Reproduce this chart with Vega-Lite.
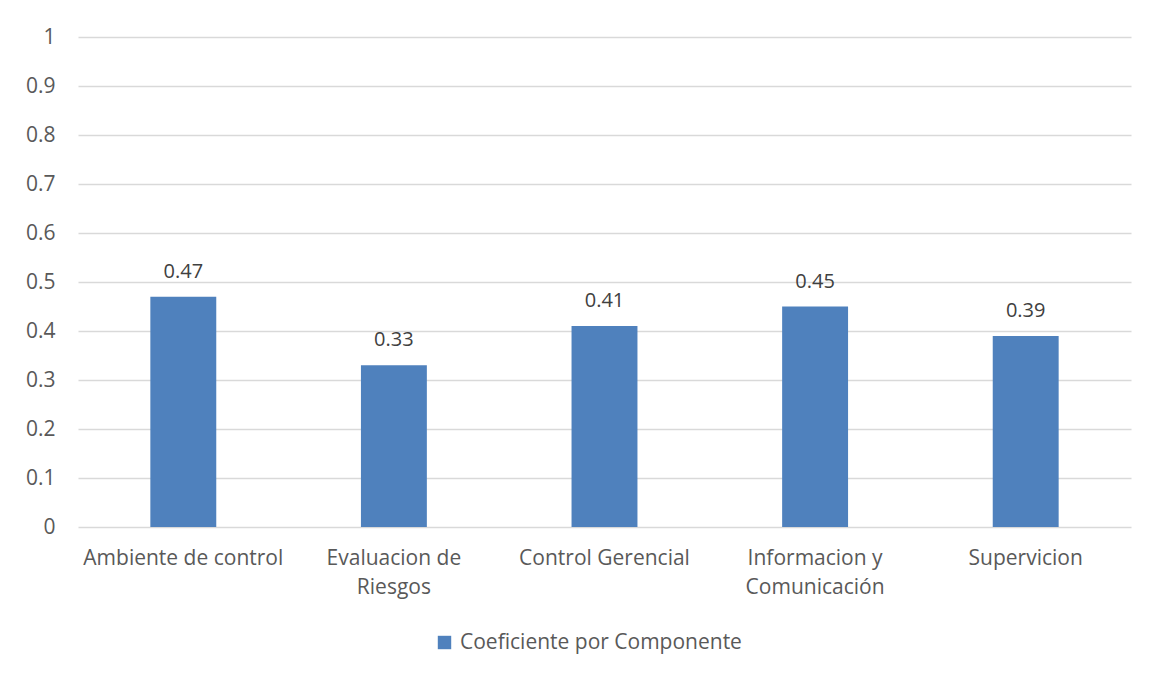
{
  "$schema": "https://vega.github.io/schema/vega-lite/v6.json",
  "autosize": {"type": "none"},
  "padding": {"left": 78, "top": 37, "right": 24, "bottom": 148},
  "width": 1053,
  "height": 490,
  "background": "#ffffff",
  "config": {
    "view": {"stroke": null},
    "font": "Open Sans",
    "axis": {"labelFont": "Open Sans", "labelColor": "#595959", "domain": false, "ticks": false, "title": null, "labelLimit": 0}
  },
  "data": {
    "values": [
      {"Componente": "Ambiente de control", "Coeficiente": 0.47},
      {"Componente": "Evaluacion de Riesgos", "Coeficiente": 0.33},
      {"Componente": "Control Gerencial", "Coeficiente": 0.41},
      {"Componente": "Informacion y Comunicación", "Coeficiente": 0.45},
      {"Componente": "Supervicion", "Coeficiente": 0.39}
    ]
  },
  "encoding": {
    "x": {
      "field": "Componente",
      "type": "nominal",
      "sort": null,
      "scale": {"paddingInner": 0.687, "paddingOuter": 0.3435},
      "axis": {
        "labelAngle": 0,
        "labelFontSize": 21,
        "labelPadding": 20,
        "labelLineHeight": 29,
        "labelBaseline": "top",
        "grid": false,
        "labelExpr": "datum.label == 'Evaluacion de Riesgos' ? ['Evaluacion de', 'Riesgos'] : datum.label == 'Informacion y Comunicación' ? ['Informacion y', 'Comunicación'] : datum.label"
      }
    },
    "y": {
      "field": "Coeficiente",
      "type": "quantitative",
      "scale": {"domain": [0, 1], "nice": false},
      "axis": {
        "values": [0, 0.1, 0.2, 0.3, 0.4, 0.5, 0.6, 0.7, 0.8, 0.9, 1],
        "labelFontSize": 21,
        "labelPadding": 23,
        "grid": true,
        "gridColor": "#d9d9d9",
        "gridWidth": 1.3,
        "labelExpr": "datum.value == 0 || datum.value == 1 ? format(datum.value, 'd') : format(datum.value, '.1f')"
      }
    }
  },
  "layer": [
    {
      "mark": {"type": "bar"},
      "encoding": {
        "color": {
          "datum": "Coeficiente por Componente",
          "scale": {"range": ["#4F81BD"]},
          "legend": {
            "title": null,
            "orient": "none",
            "legendX": 356,
            "legendY": 595,
            "padding": 0,
            "symbolType": "square",
            "symbolSize": 180,
            "symbolStrokeWidth": 0,
            "labelFont": "Open Sans",
            "labelFontSize": 21,
            "labelColor": "#595959",
            "labelOffset": 5,
            "labelLimit": 0
          }
        }
      }
    },
    {
      "mark": {"type": "text", "baseline": "alphabetic", "dy": -19, "fontSize": 20, "color": "#404040", "font": "Open Sans"},
      "encoding": {"text": {"field": "Coeficiente", "type": "quantitative", "format": ".2f"}}
    }
  ]
}
